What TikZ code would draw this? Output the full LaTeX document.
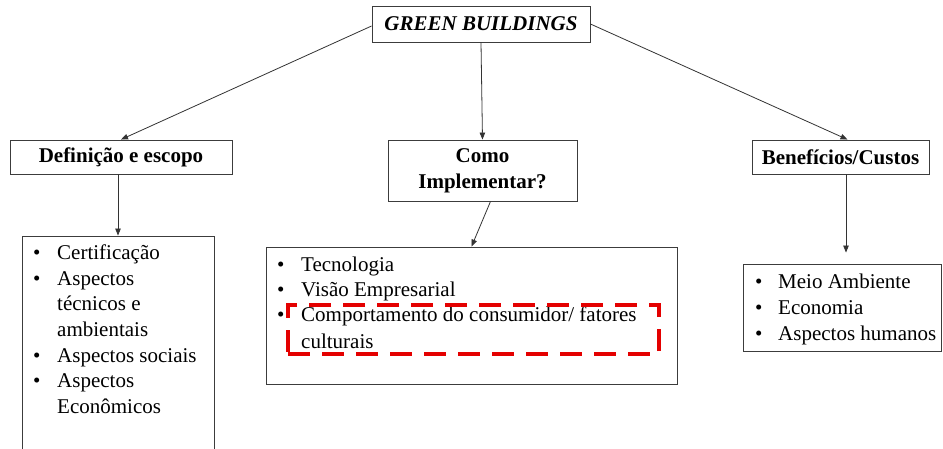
\documentclass[tikz,border=0pt]{standalone}
\usepackage{fontspec}
\setmainfont{Liberation Serif}
\usetikzlibrary{arrows.meta}
\definecolor{frame}{RGB}{60,60,60}
\definecolor{hlred}{RGB}{228,0,0}
\tikzset{
  box/.style={draw=frame, line width=0.9pt, fill=white, rectangle, inner sep=0pt},
  head/.style={box, font=\fontsize{21}{26}\selectfont\bfseries, align=center},
  listbox/.style={box},
  item/.style={anchor=base west, inner sep=0pt, font=\fontsize{21}{25.5}\selectfont},
  link/.style={draw=black!80, line width=0.8pt, -{Triangle[length=7pt,width=5.5pt]}},
  hlbox/.style={draw=hlred, line width=3.6pt, dash pattern=on 22pt off 12pt, rectangle, inner sep=0pt}
}
\begin{document}
\begin{tikzpicture}[x=1pt, y=-1pt]
\fill[white] (0,0) rectangle (943,449);
\useasboundingbox (0,0) rectangle (943,449);
\clip (0,0) rectangle (943,449);

% heading boxes
\node[head, minimum width=218pt, minimum height=36pt] (gb) at (481,24)
  {\itshape GREEN BUILDINGS};
\node[head, minimum width=222pt, minimum height=34pt] (def) at (121,157)
  {Definição e escopo};
\node[head, minimum width=189pt, minimum height=61pt] (como) at (482.5,170.5)
  {Como\\Implementar?};
\node[head, minimum width=177pt, minimum height=34pt] (ben) at (840.5,157)
  {Benefícios/Custos};

% list boxes
\node[listbox, minimum width=192pt, minimum height=234pt] (listL) at (118,353) {};
\node[listbox, minimum width=411pt, minimum height=137pt] (listM) at (471.5,315.5) {};
\node[listbox, minimum width=198pt, minimum height=87pt] (listR) at (842,307.5) {};

% left list
\node[item] (l1b) at (33,260) {•};   \node[item] (l1) at (57,260) {Certificação};
\node[item] (l2b) at (33,285.5) {•}; \node[item] (l2) at (57,285.5) {Aspectos};
\node[item] (l3) at (57,311) {técnicos e};
\node[item] (l4) at (57,336.5) {ambientais};
\node[item] (l5b) at (33,362) {•};   \node[item] (l5) at (57,362) {Aspectos sociais};
\node[item] (l6b) at (33,387.5) {•}; \node[item] (l6) at (57,387.5) {Aspectos};
\node[item] (l7) at (57,413) {Econômicos};

% middle list
\node[item] (m1b) at (277,272) {•}; \node[item] (m1) at (301,272) {Tecnologia};
\node[item] (m2b) at (277,297) {•}; \node[item] (m2) at (301,297) {Visão Empresarial};
\node[item] (m3b) at (277,322) {•}; \node[item] (m3) at (301,322) {Comportamento do consumidor/ fatores};
\node[item] (m4) at (301,348) {culturais};

% highlighted item
\node[hlbox, minimum width=371pt, minimum height=49pt] (hl) at (473.5,329.5) {};

% right list
\node[item] (r1b) at (755,288) {•}; \node[item] (r1) at (778,288) {Meio Ambiente};
\node[item] (r2b) at (755,314) {•}; \node[item] (r2) at (778,314) {Economia};
\node[item] (r3b) at (755,340) {•}; \node[item] (r3) at (778,340) {Aspectos humanos};

% connectors
\draw[link] ([yshift=-2pt]gb.west) -- (def.north);
\draw[link] (gb.south) -- (como.north);
\draw[link] (gb.east) -- ([xshift=7pt]ben.north);
\draw[link] (listL.north |- def.south) -- (listL.north);
\draw[link] ([xshift=8pt]como.south) -- (listM.north);
\coordinate (rin) at ([xshift=4pt,yshift=11pt]listR.north);
\draw[link] (rin |- ben.south) -- (rin);
\end{tikzpicture}
\end{document}
